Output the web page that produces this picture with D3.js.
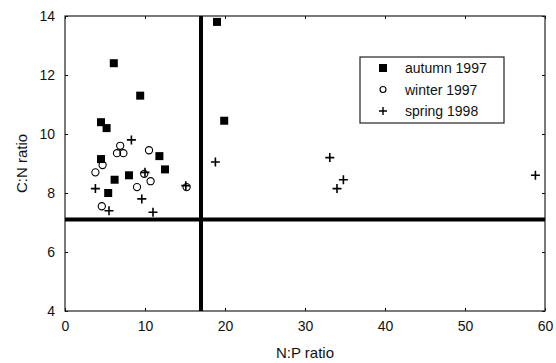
<!DOCTYPE html>
<meta charset="utf-8">
<script src="https://d3js.org/d3.v7.min.js"></script>
<style>
  body { margin: 0; background: #fff; }
  text { font-family: "Liberation Sans", Arial, sans-serif; fill: #111; }
</style>
<div id="chart"></div>
<script>

var autumnNP = [6.1, 9.4, 4.5, 5.2, 19.0, 19.9, 4.5, 6.2, 5.4, 8.0, 11.8, 12.5];
var autumnCN = [12.4, 11.3, 10.4, 10.2, 13.8, 10.45, 9.15, 8.45, 8.0, 8.6, 9.25, 8.8];

var winterNP = [6.9, 6.5, 7.3, 10.5, 4.7, 3.8, 9.9, 10.7, 9.0, 4.6, 15.2];
var winterCN = [9.6, 9.35, 9.35, 9.45, 8.95, 8.7, 8.65, 8.4, 8.2, 7.55, 8.2];

var springNP = [8.3, 3.8, 9.6, 5.5, 11.0, 10.0, 15.1, 18.8, 33.1, 34.8, 34.0, 58.8];
var springCN = [9.8, 8.15, 7.8, 7.4, 7.35, 8.7, 8.25, 9.05, 9.2, 8.45, 8.15, 8.6];

var xTicks = [0, 10, 20, 30, 40, 50, 60];
var yTicks = [4, 6, 8, 10, 12, 14];
var refNP = 17, refCN = 7.1;
var legendLabels = ["autumn 1997", "winter 1997", "spring 1998"];

var width = 556, height = 363;
var margin = {top: 16, right: 11, bottom: 52, left: 65};
var w = width - margin.left - margin.right,
    h = height - margin.top - margin.bottom;

var svg = d3.select("#chart").append("svg")
    .attr("width", width)
    .attr("height", height);

var g = svg.append("g")
    .attr("transform", "translate(" + margin.left + "," + margin.top + ")");

var x = d3.scaleLinear().domain([0, 60]).range([0, w]);
var y = d3.scaleLinear().domain([4, 14]).range([h, 0]);

// axes with inward ticks, mirrored on top and right
g.append("g")
    .attr("transform", "translate(0," + h + ")")
    .call(d3.axisBottom(x).tickValues(xTicks).tickSizeInner(-3).tickSizeOuter(0).tickPadding(10))
    .call(function(a){ a.select(".domain").remove() })
    .selectAll("text").style("font-size", "14px");

g.append("g")
    .call(d3.axisLeft(y).tickValues(yTicks).tickSizeInner(-3).tickSizeOuter(0).tickPadding(10))
    .call(function(a){ a.select(".domain").remove() })
    .selectAll("text").style("font-size", "14px");

g.append("g")
    .call(d3.axisTop(x).tickValues(xTicks).tickSizeInner(-3).tickSizeOuter(0).tickFormat(""))
    .call(function(a){ a.select(".domain").remove() });

g.append("g")
    .attr("transform", "translate(" + w + ",0)")
    .call(d3.axisRight(y).tickValues(yTicks).tickSizeInner(-3).tickSizeOuter(0).tickFormat(""))
    .call(function(a){ a.select(".domain").remove() });

g.append("rect")
    .attr("width", w).attr("height", h)
    .attr("fill", "none").attr("stroke", "#222").attr("stroke-width", 1.2);

// reference lines
g.append("line")
    .attr("x1", x(refNP)).attr("x2", x(refNP))
    .attr("y1", 0).attr("y2", h)
    .attr("stroke", "#000").attr("stroke-width", 4);

g.append("line")
    .attr("x1", 0).attr("x2", w)
    .attr("y1", y(refCN)).attr("y2", y(refCN))
    .attr("stroke", "#000").attr("stroke-width", 4);

function squares(sel, xs, ys) {
  sel.selectAll("rect.sq").data(xs).enter().append("rect")
    .attr("class", "sq")
    .attr("x", function(d){ return x(d) - 4 })
    .attr("y", function(d, i){ return y(ys[i]) - 4 })
    .attr("width", 8).attr("height", 8)
    .attr("fill", "#000");
}
function circles(sel, xs, ys) {
  sel.selectAll("circle.ci").data(xs).enter().append("circle")
    .attr("class", "ci")
    .attr("cx", function(d){ return x(d) })
    .attr("cy", function(d, i){ return y(ys[i]) })
    .attr("r", 3.6)
    .attr("fill", "none").attr("stroke", "#000").attr("stroke-width", 1.1);
}
function pluses(sel, xs, ys) {
  sel.selectAll("path.pl").data(xs).enter().append("path")
    .attr("class", "pl")
    .attr("d", function(d, i){
      var cx = x(d), cy = y(ys[i]);
      return "M" + (cx - 4.5) + "," + cy + "H" + (cx + 4.5) + "M" + cx + "," + (cy - 4.5) + "V" + (cy + 4.5);
    })
    .attr("stroke", "#000").attr("stroke-width", 1.6);
}

squares(g.append("g"), autumnNP, autumnCN);
circles(g.append("g"), winterNP, winterCN);
pluses(g.append("g"), springNP, springCN);

// axis titles
svg.append("text")
    .attr("x", margin.left + w / 2).attr("y", 358)
    .attr("text-anchor", "middle")
    .style("font-size", "15px")
    .text("N:P ratio");

svg.append("text")
    .attr("transform", "translate(27," + (margin.top + h / 2) + ") rotate(-90)")
    .attr("text-anchor", "middle")
    .style("font-size", "15px")
    .text("C:N ratio");

// legend
var lg = svg.append("g").attr("transform", "translate(360,57)");
lg.append("rect").attr("width", 144).attr("height", 66)
    .attr("fill", "#fff").attr("stroke", "#222").attr("stroke-width", 1.2);

var rows = [0, 1, 2].map(function(i){ return 11 + i * 21.5 });
lg.append("rect").attr("x", 19).attr("y", rows[0] - 4).attr("width", 8).attr("height", 8).attr("fill", "#000");
lg.append("circle").attr("cx", 23).attr("cy", rows[1]).attr("r", 3)
    .attr("fill", "none").attr("stroke", "#000").attr("stroke-width", 1.1);
lg.append("path")
    .attr("d", "M19," + rows[2] + "H27M23," + (rows[2] - 4) + "V" + (rows[2] + 4))
    .attr("stroke", "#000").attr("stroke-width", 1.4);

lg.selectAll("text.lab").data(legendLabels).enter().append("text")
    .attr("class", "lab")
    .attr("x", 45)
    .attr("y", function(d, i){ return rows[i] + 5 })
    .style("font-size", "14px")
    .text(function(d){ return d });

</script>
